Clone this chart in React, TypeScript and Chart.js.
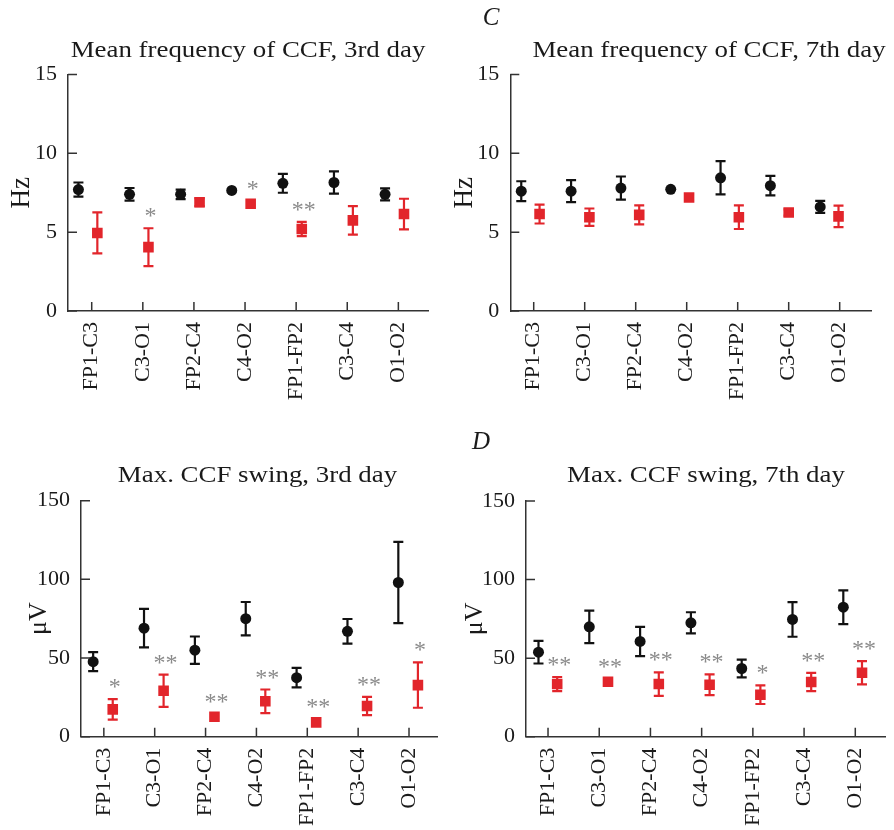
import React, { useEffect, useRef } from 'react';
import { Chart, registerables } from 'chart.js';

Chart.register(...registerables);

// ---------- data ----------
const channels = ['FP1-C3', 'C3-O1', 'FP2-C4', 'C4-O2', 'FP1-FP2', 'C3-C4', 'O1-O2'];

const freq3Control = [7.7, 7.4, 7.4, 7.65, 8.1, 8.15, 7.4];
const freq3ControlErr = [0.45, 0.4, 0.3, 0, 0.6, 0.7, 0.38];
const freq3Treated = [4.95, 4.05, 6.9, 6.8, 5.2, 5.75, 6.15];
const freq3TreatedErr = [1.3, 1.2, 0.25, 0, 0.45, 0.9, 0.97];
const freq3Sig = ['', '*', '', '*', '**', '', ''];

const freq7Control = [7.6, 7.6, 7.8, 7.72, 8.45, 7.95, 6.6];
const freq7ControlErr = [0.63, 0.7, 0.73, 0, 1.05, 0.62, 0.38];
const freq7Treated = [6.15, 5.95, 6.1, 7.2, 5.95, 6.25, 6.0];
const freq7TreatedErr = [0.6, 0.55, 0.6, 0.2, 0.75, 0.2, 0.68];
const freq7Sig = ['', '', '', '', '', '', ''];

const swing3Control = [47.7, 69, 55, 75, 37.5, 67, 98];
const swing3ControlErr = [6, 12.2, 8.7, 10.6, 6.2, 7.8, 25.8];
const swing3Treated = [17.4, 29.2, 12.7, 22.5, 9.1, 19.5, 32.8];
const swing3TreatedErr = [6.5, 10.2, 0, 7.5, 0, 5.8, 14.4];
const swing3Sig = ['*', '**', '**', '**', '**', '**', '*'];

const swing7Control = [53.8, 69.9, 60.6, 72.5, 43.4, 74.6, 82.4];
const swing7ControlErr = [7.2, 10.3, 9.3, 6.7, 5.7, 11, 10.7];
const swing7Treated = [33.5, 35, 33.5, 33.1, 26.7, 34.8, 40.7];
const swing7TreatedErr = [4.5, 2, 7.5, 6.6, 5.9, 5.8, 7.4];
const swing7Sig = ['**', '**', '**', '**', '*', '**', '**'];

const freqTicks = [0, 5, 10, 15];
const swingTicks = [0, 50, 100, 150];

// ---------- styles ----------
const FONT = '"Liberation Serif", "Times New Roman", serif';
const BLACK = '#111111';
const RED = '#e2252b';
const GREY = '#8a8a8a';
const AXIS = '#333333';

type PanelCfg = {
  title: string;
  yTitle: string;
  yTitleSize: number;
  yTitlePad: number;
  control: number[];
  controlErr: number[];
  treated: number[];
  treatedErr: number[];
  sig: string[];
  yTicks: number[];
  left: number;
  top: number;
  width: number;
  height: number;
  padTop: number;
  padRight: number;
  yWidth: number;
  xHeight: number;
  xMin: number;
  xMax: number;
  blackOff: number;
  redOff: number;
  spread: number;
  titleX: number;
  titleY: number;
};

const panels: PanelCfg[] = [
  {
    title: 'Mean frequency of CCF, 3rd day', yTitle: 'Hz', yTitleSize: 27, yTitlePad: 6,
    control: freq3Control, controlErr: freq3ControlErr, treated: freq3Treated, treatedErr: freq3TreatedErr,
    sig: freq3Sig, yTicks: freqTicks,
    left: 0, top: 0, width: 447, height: 400, padTop: 74.5, padRight: 19, yWidth: 68, xHeight: 89,
    xMin: 0.536, xMax: 7.58, blackOff: -0.26, redOff: 0.11, spread: 1,
    titleX: 248, titleY: 57,
  },
  {
    title: 'Mean frequency of CCF, 7th day', yTitle: 'Hz', yTitleSize: 27, yTitlePad: 2,
    control: freq7Control, controlErr: freq7ControlErr, treated: freq7Treated, treatedErr: freq7TreatedErr,
    sig: freq7Sig, yTicks: freqTicks,
    left: 447, top: 0, width: 447, height: 400, padTop: 74.5, padRight: 23, yWidth: 63.3, xHeight: 89,
    xMin: 0.541, xMax: 7.614, blackOff: -0.313, redOff: 0.046, spread: 0.977,
    titleX: 262, titleY: 57,
  },
  {
    title: 'Max. CCF swing, 3rd day', yTitle: 'μV', yTitleSize: 26, yTitlePad: 24,
    control: swing3Control, controlErr: swing3ControlErr, treated: swing3Treated, treatedErr: swing3TreatedErr,
    sig: swing3Sig, yTicks: swingTicks,
    left: 0, top: 420, width: 447, height: 410, padTop: 80.7, padRight: 7, yWidth: 81, xHeight: 93.3,
    xMin: 0.551, xMax: 7.552, blackOff: -0.21, redOff: 0.175, spread: 1,
    titleX: 257.5, titleY: 62,
  },
  {
    title: 'Max. CCF swing, 7th day', yTitle: 'μV', yTitleSize: 26, yTitlePad: 13,
    control: swing7Control, controlErr: swing7ControlErr, treated: swing7Treated, treatedErr: swing7TreatedErr,
    sig: swing7Sig, yTicks: swingTicks,
    left: 447, top: 420, width: 447, height: 410, padTop: 81, padRight: 8.7, yWidth: 79, xHeight: 93.3,
    xMin: 0.57, xMax: 7.586, blackOff: -0.21, redOff: 0.155, spread: 0.992,
    titleX: 259, titleY: 62,
  },
];

// ---------- plugin: error bars, inward ticks, title, significance marks ----------
const decorPlugin = {
  id: 'decor',
  beforeDatasetsDraw(chart: any) {
    const { ctx } = chart;
    const xs = chart.scales.x;
    const ys = chart.scales.y;
    ctx.save();
    chart.data.datasets.forEach((ds: any) => {
      const errs: number[] = ds.errors || [];
      ds.data.forEach((pt: any, i: number) => {
        const e = errs[i];
        if (!e) return;
        const x = xs.getPixelForValue(pt.x);
        const y1 = ys.getPixelForValue(pt.y + e);
        const y2 = ys.getPixelForValue(pt.y - e);
        ctx.strokeStyle = ds.backgroundColor;
        ctx.lineWidth = 2.2;
        ctx.beginPath();
        ctx.moveTo(x, y1);
        ctx.lineTo(x, y2);
        ctx.moveTo(x - 5, y1);
        ctx.lineTo(x + 5, y1);
        ctx.moveTo(x - 5, y2);
        ctx.lineTo(x + 5, y2);
        ctx.stroke();
      });
    });
    ctx.restore();
  },
  afterDraw(chart: any, _args: any, opts: any) {
    const { ctx, chartArea } = chart;
    const xs = chart.scales.x;
    const ys = chart.scales.y;
    ctx.save();
    // inward tick marks
    ctx.strokeStyle = AXIS;
    ctx.lineWidth = 1.5;
    ctx.beginPath();
    ys.ticks.forEach((t: any) => {
      const y = ys.getPixelForValue(t.value);
      ctx.moveTo(chartArea.left, y);
      ctx.lineTo(chartArea.left + 9, y);
    });
    xs.ticks.forEach((t: any) => {
      const x = xs.getPixelForValue(t.value);
      ctx.moveTo(x, chartArea.bottom);
      ctx.lineTo(x, chartArea.bottom - 9);
    });
    ctx.stroke();

    // title
    ctx.fillStyle = '#1a1a1a';
    ctx.font = `24px ${FONT}`;
    ctx.textAlign = 'center';
    ctx.textBaseline = 'alphabetic';
    ctx.save();
    ctx.translate(opts.titleX, opts.titleY);
    ctx.scale(1.12, 1);
    ctx.fillText(opts.title, 0, 0);
    ctx.restore();

    // significance asterisks above treated points
    const ds = chart.data.datasets[1];
    const sig: string[] = opts.sig || [];
    ctx.fillStyle = GREY;
    ctx.font = `24px ${FONT}`;
    ds.data.forEach((pt: any, i: number) => {
      const s = sig[i];
      if (!s) return;
      const e = ds.errors[i] || 0;
      const x = xs.getPixelForValue(pt.x) + 2;
      const top = ys.getPixelForValue(pt.y + e);
      const mid = ys.getPixelForValue(pt.y);
      const cy = Math.min(top - 16, mid - 19);
      ctx.fillText(s, x, cy + 11);
    });
    ctx.restore();
  },
};

function buildConfig(p: PanelCfg): any {
  const xPos = (i: number, off: number) => 4 + (i + 1 - 4) * p.spread + off;
  return {
    type: 'scatter',
    data: {
      datasets: [
        {
          data: p.control.map((v, i) => ({ x: xPos(i, p.blackOff), y: v })),
          errors: p.controlErr,
          backgroundColor: BLACK,
          borderColor: BLACK,
          pointStyle: 'circle',
          pointRadius: 5.5,
          pointBorderWidth: 0,
        },
        {
          data: p.treated.map((v, i) => ({ x: xPos(i, p.redOff), y: v })),
          errors: p.treatedErr,
          backgroundColor: RED,
          borderColor: RED,
          pointStyle: 'rect',
          pointRadius: 7.5,
          pointBorderWidth: 0,
        },
      ],
    },
    options: {
      responsive: false,
      animation: false,
      events: [],
      layout: { padding: { top: p.padTop, right: p.padRight, left: 0, bottom: 0 } },
      plugins: {
        legend: { display: false },
        tooltip: { enabled: false },
        title: { display: false },
        decor: { title: p.title, titleX: p.titleX, titleY: p.titleY, sig: p.sig },
      },
      scales: {
        x: {
          type: 'linear',
          min: p.xMin,
          max: p.xMax,
          afterBuildTicks: (axis: any) => {
            axis.ticks = channels.map((_, i) => ({ value: i + 1 }));
          },
          afterFit: (axis: any) => {
            axis.height = p.xHeight;
          },
          grid: { display: true, drawOnChartArea: false, drawTicks: false },
          border: { display: true, color: AXIS, width: 1.5 },
          ticks: {
            autoSkip: false,
            minRotation: 90,
            maxRotation: 90,
            padding: 11,
            color: '#1a1a1a',
            font: { family: FONT, size: 22 },
            callback: (v: any) => channels[Math.round(v) - 1] ?? '',
          },
        },
        y: {
          type: 'linear',
          min: p.yTicks[0],
          max: p.yTicks[p.yTicks.length - 1],
          afterBuildTicks: (axis: any) => {
            axis.ticks = p.yTicks.map((v) => ({ value: v }));
          },
          afterFit: (axis: any) => {
            axis.width = p.yWidth;
          },
          grid: { display: true, drawOnChartArea: false, drawTicks: false },
          border: { display: true, color: AXIS, width: 1.5 },
          ticks: {
            padding: 11,
            color: '#1a1a1a',
            font: { family: FONT, size: 22 },
          },
          title: {
            display: true,
            text: p.yTitle,
            color: '#1a1a1a',
            font: { family: FONT, size: p.yTitleSize },
            padding: p.yTitlePad,
          },
        },
      },
    },
    plugins: [decorPlugin],
  };
}

function Panel({ p }: { p: PanelCfg }) {
  const ref = useRef<HTMLCanvasElement>(null);
  useEffect(() => {
    if (!ref.current) return;
    const chart = new Chart(ref.current, buildConfig(p));
    return () => chart.destroy();
  }, [p]);
  return (
    <canvas
      ref={ref}
      width={p.width}
      height={p.height}
      style={{ position: 'absolute', left: p.left, top: p.top, width: p.width, height: p.height, display: 'block' }}
    />
  );
}

const letterStyle: React.CSSProperties = {
  position: 'absolute',
  width: 40,
  textAlign: 'center',
  fontFamily: FONT,
  fontStyle: 'italic',
  fontSize: 25,
  lineHeight: '25px',
  color: '#1a1a1a',
};

export default function App() {
  return (
    <div style={{ position: 'absolute', left: 0, top: 0, width: 894, height: 830, background: '#ffffff' }}>
      {panels.map((p, i) => (
        <Panel key={i} p={p} />
      ))}
      <div style={{ ...letterStyle, left: 471, top: 4 }}>C</div>
      <div style={{ ...letterStyle, left: 461, top: 428 }}>D</div>
    </div>
  );
}
